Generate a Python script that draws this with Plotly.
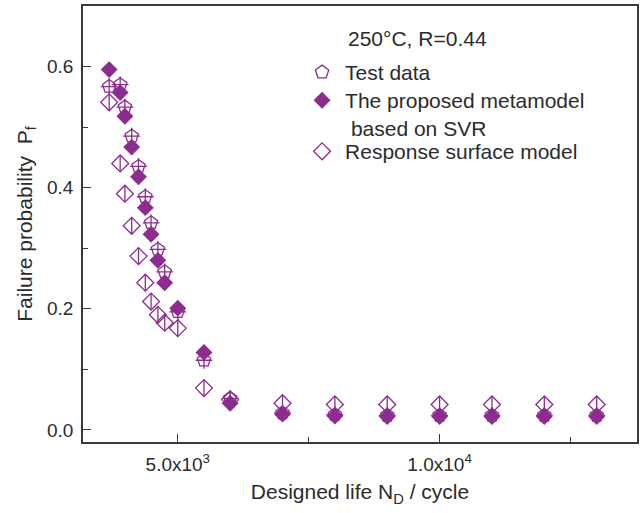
import plotly.graph_objects as go

# ---- data ----
life = [3690, 3900, 3990, 4120, 4250, 4380, 4490, 4620, 4750, 5000, 5500, 6000,
        7000, 8000, 9000, 10000, 11000, 12000, 13000]
test_data = [0.567, 0.570, 0.533, 0.485, 0.435, 0.385, 0.342, 0.298, 0.261, 0.195,
             0.115, 0.052, 0.028, 0.025, 0.024, 0.024, 0.024, 0.024, 0.024]
svr_model = [0.595, 0.557, 0.518, 0.467, 0.418, 0.367, 0.323, 0.280, 0.243, 0.201,
             0.128, 0.044, 0.026, 0.023, 0.022, 0.022, 0.022, 0.022, 0.022]
rsm_model = [0.541, 0.440, 0.390, 0.337, 0.287, 0.243, 0.212, 0.190, 0.177, 0.168,
             0.069, 0.050, 0.044, 0.042, 0.042, 0.042, 0.042, 0.042, 0.042]

x_ticks = [5000, 10000]
x_ticktext = ["5.0x10<sup>3</sup>", "1.0x10<sup>4</sup>"]
y_ticks = [0.0, 0.2, 0.4, 0.6]
y_ticktext = ["0.0", "0.2", "0.4", "0.6"]

PURPLE = "#8B2C8E"
FONT = "Liberation Sans, Arial, sans-serif"
TXT = "#2b2b2b"

fig = go.Figure()
fig.add_trace(go.Scatter(x=life, y=test_data, mode="markers", name="Test data",
                         legendgroup="t", legend="legend",
                         marker=dict(symbol="pentagon-open", size=14, color=PURPLE,
                                     line=dict(width=1.3, color=PURPLE))))
fig.add_trace(go.Scatter(x=life, y=test_data, mode="markers", showlegend=False,
                         legendgroup="t", hoverinfo="skip",
                         marker=dict(symbol="cross-thin-open", size=12, color=PURPLE,
                                     line=dict(width=1.3, color=PURPLE))))
fig.add_trace(go.Scatter(x=life, y=svr_model, mode="markers",
                         name="The proposed metamodel<br>\u00a0based on SVR",
                         legend="legend2",
                         marker=dict(symbol="diamond", size=13, color=PURPLE,
                                     line=dict(width=0))))
fig.add_trace(go.Scatter(x=life, y=rsm_model, mode="markers",
                         name="Response surface model", legendgroup="r",
                         legend="legend3",
                         marker=dict(symbol="diamond-open", size=13, color=PURPLE,
                                     line=dict(width=1.3, color=PURPLE))))
fig.add_trace(go.Scatter(x=life, y=rsm_model, mode="markers", showlegend=False,
                         legendgroup="r", hoverinfo="skip",
                         marker=dict(symbol="line-ns-open", size=12, color=PURPLE,
                                     line=dict(width=1.3, color=PURPLE))))

axis_common = dict(showline=True, linecolor="#3a3a3a", linewidth=1.5, mirror=True,
                   showgrid=False, zeroline=False, ticks="inside", ticklen=8,
                   tickwidth=1.3, tickcolor="#3a3a3a", ticklabelstandoff=4,
                   tickfont=dict(family=FONT, size=19, color=TXT))

legend_common = dict(x=0.39, xanchor="left", yanchor="top",
                     bgcolor="rgba(0,0,0,0)", borderwidth=0, itemwidth=36,
                     valign="top", tracegroupgap=0,
                     font=dict(family=FONT, size=21, color=TXT))

fig.update_layout(
    width=640, height=513,
    margin=dict(l=83, r=1, t=6, b=71),
    paper_bgcolor="white", plot_bgcolor="white",
    font=dict(family=FONT, color=TXT),
    xaxis=dict(range=[3190, 13770], tickmode="array", tickvals=x_ticks,
               ticktext=x_ticktext,
               minor=dict(tickmode="array", tickvals=[7500, 12500], ticks="inside",
                          ticklen=5, tickwidth=1.3, tickcolor="#3a3a3a"),
               title=dict(text="Designed life N<sub>D</sub> / cycle",
                          font=dict(family=FONT, size=21, color=TXT), standoff=11),
               **axis_common),
    yaxis=dict(range=[-0.02, 0.70], tickmode="array", tickvals=y_ticks,
               ticktext=y_ticktext,
               minor=dict(tickmode="array", tickvals=[0.1, 0.3, 0.5], ticks="inside",
                          ticklen=5, tickwidth=1.3, tickcolor="#3a3a3a"),
               title=dict(text="Failure probability  P<sub>f</sub>",
                          font=dict(family=FONT, size=21, color=TXT), standoff=9),
               **axis_common),
    legend=dict(y=0.8945, **legend_common),
    legend2=dict(y=0.830, **legend_common),
    legend3=dict(y=0.713, **legend_common),
    annotations=[dict(text="250\u00b0C, R=0.44", xref="paper", yref="paper",
                      x=0.475, y=0.925, xanchor="left", yanchor="middle",
                      showarrow=False, font=dict(family=FONT, size=21, color=TXT))],
)

fig.write_html("out.html")
